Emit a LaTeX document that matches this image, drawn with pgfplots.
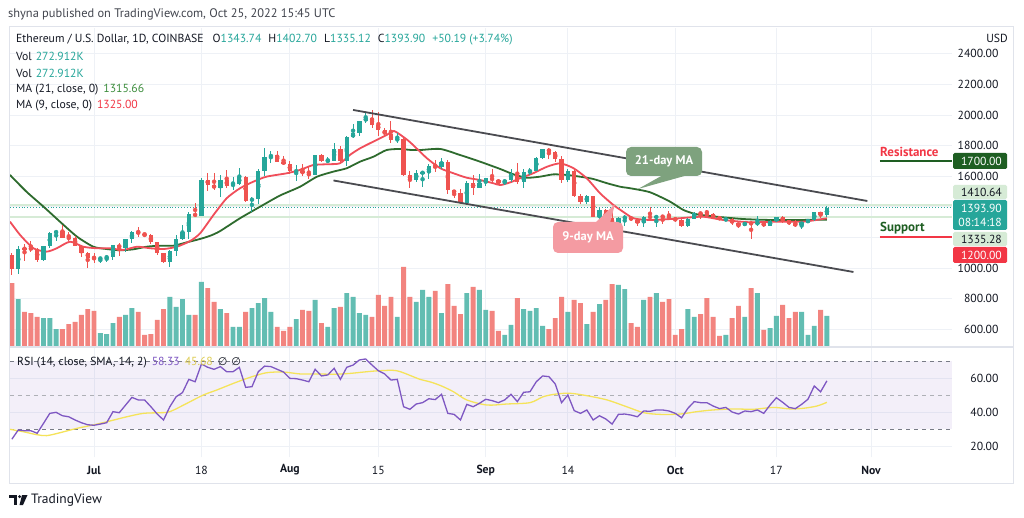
\documentclass[border=0pt]{standalone}
\usepackage{pgfplots}
\pgfplotsset{compat=1.18}
\usepackage{pgfplotstable}
\usepackage{fontspec}
\setmainfont{PT Sans}
\newfontfamily\symf{DejaVu Sans}

\definecolor{tvgreen}{HTML}{26A69A}
\definecolor{tvred}{HTML}{EF5350}
\definecolor{volgreen}{HTML}{62BDB2}
\definecolor{volred}{HTML}{F2847F}
\definecolor{ma21}{HTML}{2E6B2E}
\definecolor{ma9}{HTML}{F04E5A}
\definecolor{gridc}{HTML}{EEF1F6}
\definecolor{txt}{HTML}{131722}
\definecolor{rsip}{HTML}{7E57C2}
\definecolor{rsiy}{HTML}{F5E35A}
\definecolor{chan}{HTML}{4A4B50}
\definecolor{lgreen}{HTML}{D6EBD6}
\definecolor{resgreen}{HTML}{1E5E22}
\definecolor{supred}{HTML}{F23645}
\definecolor{call21}{HTML}{7EA27E}
\definecolor{call9}{HTML}{F49BA2}
\definecolor{framec}{HTML}{E0E3EB}
\definecolor{dashc}{HTML}{787B86}
\definecolor{ma21txt}{HTML}{3E8E3E}

\newcommand{\hdr}{\fontsize{11.7}{13}\selectfont}

\pgfplotstableread{
d o h l c v
-12 993 1146 964 1127 422
-8 1052 1146 1047 1143 255
-7 1143 1234 1130 1226 255
-6 1226 1250 1176 1243 158
1 1059 1072 1032 1066 123
2 1066 1082 1039 1075 114
3 1075 1151 1053 1150 211
5 1133 1191 1107 1187 282
6 1187 1243 1164 1238 343
12 1038 1117 1006 1112 440
13 1112 1213 1076 1192 352
14 1192 1280 1185 1233 422
15 1233 1368 1192 1355 282
17 1339 1587 1339 1578 572
20 1521 1607 1461 1577 334
22 1535 1597 1508 1551 176
23 1551 1656 1540 1596 176
25 1441 1462 1363 1452 343
26 1452 1645 1420 1636 387
27 1636 1785 1604 1726 431
28 1726 1766 1683 1738 308
32 1632 1675 1566 1634 246
35 1607 1739 1605 1737 414
37 1698 1724 1683 1702 176
38 1702 1818 1700 1776 343
40 1700 1865 1665 1853 475
41 1853 1943 1851 1880 440
42 1880 1963 1860 1958 299
43 1958 2020 1950 1983 282
48 1834 1884 1820 1846 264
51 1575 1640 1560 1620 396
52 1620 1630 1530 1625 502
53 1625 1682 1580 1665 440
55 1658 1720 1650 1696 299
59 1424 1567 1420 1553 475
61 1523 1616 1520 1553 502
62 1553 1590 1538 1586 326
65 1557 1579 1541 1577 106
66 1577 1650 1560 1617 194
68 1561 1644 1520 1630 334
69 1630 1651 1606 1636 317
70 1636 1728 1633 1718 343
71 1718 1780 1711 1775 185
75 1574 1650 1565 1637 308
78 1432 1478 1421 1470 202
80 1336 1395 1283 1377 378
83 1252 1336 1238 1328 546
84 1328 1349 1272 1331 510
87 1294 1339 1270 1336 414
89 1330 1348 1265 1337 475
94 1276 1326 1270 1323 334
95 1323 1368 1319 1362 264
100 1316 1325 1310 1320 106
103 1280 1302 1275 1295 264
105 1288 1340 1277 1297 475
107 1275 1311 1272 1305 167
108 1305 1335 1299 1331 273
112 1283 1301 1254 1299 308
113 1299 1318 1296 1314 106
114 1314 1365 1306 1364 185
116 1343.74 1402.70 1335.12 1393.90 272.9
}\upc

\pgfplotstableread{
d o h l c v
-13 1086 1097 955 993 563
-11 1127 1160 1046 1125 308
-10 1128 1178 1104 1125 299
-9 1125 1132 1040 1052 264
-5 1243 1282 1196 1199 158
-4 1199 1237 1177 1193 202
-3 1193 1210 1141 1144 220
-2 1144 1147 1071 1098 282
-1 1098 1103 1003 1068 334
0 1068 1100 1033 1059 317
4 1150 1165 1081 1133 264
7 1238 1271 1200 1223 308
8 1223 1230 1202 1218 106
9 1218 1222 1154 1168 114
10 1168 1169 1088 1097 238
11 1097 1099 1035 1038 334
16 1355 1427 1332 1339 282
18 1578 1621 1504 1543 519
19 1543 1620 1508 1521 396
21 1577 1643 1525 1535 299
24 1596 1603 1432 1441 308
29 1738 1765 1690 1696 176
30 1696 1733 1670 1680 141
31 1680 1697 1613 1632 176
33 1634 1680 1604 1618 326
34 1618 1667 1581 1607 317
36 1737 1748 1693 1698 211
39 1776 1795 1680 1700 352
44 1983 2030 1912 1936 264
45 1936 2020 1860 1902 458
46 1902 1912 1858 1876 361
47 1876 1960 1820 1834 440
49 1846 1849 1600 1610 704
50 1610 1633 1520 1575 440
54 1665 1708 1630 1658 493
56 1696 1704 1481 1507 554
57 1507 1511 1456 1492 361
58 1492 1516 1421 1424 290
60 1553 1607 1474 1523 528
63 1586 1644 1557 1577 317
64 1577 1580 1541 1557 141
67 1617 1687 1547 1561 431
72 1775 1787 1714 1761 158
73 1761 1764 1695 1713 255
74 1713 1729 1557 1574 440
76 1637 1650 1462 1473 414
77 1473 1481 1420 1432 387
79 1470 1470 1332 1336 308
81 1377 1387 1311 1324 414
82 1324 1393 1221 1252 554
85 1331 1340 1307 1316 211
86 1316 1330 1276 1294 176
88 1336 1400 1310 1330 440
90 1337 1346 1285 1335 396
91 1335 1373 1314 1328 422
92 1328 1335 1300 1311 106
93 1311 1318 1270 1276 158
96 1362 1366 1322 1352 290
97 1352 1379 1350 1349 431
98 1351 1357 1320 1331 264
99 1331 1334 1316 1321 97
101 1320 1324 1283 1291 255
102 1291 1294 1264 1280 361
104 1295 1310 1190 1288 519
106 1297 1300 1270 1275 150
109 1331 1338 1292 1311 370
110 1311 1315 1283 1285 255
111 1285 1311 1270 1283 308
115 1364 1368 1330 1344 326
}\downc

\pgfplotsset{
  tvbase/.style={scale only axis, anchor=south west, width=942pt,
    xmin=-13.3, xmax=135.8, axis line style={draw=none}, tick style={draw=none},
    /pgf/number format/assume math mode=true,
    tick label style={font=\hdr, text=txt}},
  wick/.style={color=#1, only marks, mark=none, forget plot,
    error bars/.cd, y dir=both, y explicit, error mark=none,
    error bar style={line width=1pt, color=#1}},
  body/.style={color=#1, only marks, mark=none, forget plot,
    error bars/.cd, y dir=both, y explicit, error mark=none,
    error bar style={line width=4.3pt, color=#1}},
}

\begin{document}
\begin{tikzpicture}[x=1pt,y=1pt]
\useasboundingbox (0,0) rectangle (1024,517);
\fill[white] (0,0) rectangle (1024,517);

% ---------- price grid and scale ----------
\begin{axis}[tvbase, at={(10pt,170pt)}, height=319pt,
  ymin=483.7, ymax=2568.6,
  xtick={0,17,31,45,62,75,92,108,123}, xticklabels={},
  ytick={600,800,1000,1200,1400,1600,1800,2000,2200,2400},
  yticklabels={600.00,800.00,1000.00,,,1600.00,1800.00,2000.00,2200.00,2400.00},
  yticklabel pos=right,
  yticklabel style={anchor=east, xshift=50pt},
  grid=major, major grid style={gridc, line width=0.8pt}]
\addplot[lgreen, line width=2pt] coordinates {(-13.3,1410.64) (135.8,1410.64)};
\addplot[lgreen, line width=2pt] coordinates {(-13.3,1335.28) (135.8,1335.28)};
\addplot[tvgreen, line width=0.9pt, dotted] coordinates {(-13.3,1393.90) (135.8,1393.90)};
\end{axis}

% ---------- volume ----------
\begin{axis}[tvbase, at={(10pt,170pt)}, height=319pt, ymin=0, ymax=2807, hide axis]
\addplot[ybar, bar width=4.9pt, bar shift=0pt, fill=volgreen, draw=none] table[x=d,y=v]{\upc};
\addplot[ybar, bar width=4.9pt, bar shift=0pt, fill=volred, draw=none] table[x=d,y=v]{\downc};
\end{axis}

% ---------- candles, MAs, channel ----------
\begin{axis}[tvbase, at={(10pt,170pt)}, height=319pt,
  ymin=483.7, ymax=2568.6, hide axis]
\addplot[ma21, line width=1.8pt, smooth, tension=0.4] coordinates {
(-13.3,1608) (-10.7,1499) (-8,1401) (-5.4,1303) (-2.7,1205) (-0.1,1139) (2,1124) (4.1,1116) (6.2,1122) (8.3,1139) (10.4,1146) (12.6,1146) (14.7,1168) (16.8,1190) (18.4,1211) (19.9,1240) (23.1,1325) (26.3,1401) (29.4,1473) (32.6,1531) (35.3,1597) (37.9,1630) (40,1652) (42.1,1695) (44.2,1727) (46.3,1771) (48.4,1778) (50,1772) (51.6,1771) (54.8,1778) (57.9,1739) (61.1,1695) (64.3,1647) (66.4,1612) (68.5,1590) (70.6,1597) (72.7,1612) (74.8,1608) (76.9,1597) (79,1582) (81.2,1554) (83.3,1531) (84.9,1521) (88,1495) (91.2,1433) (93.3,1379) (95.4,1351) (98.6,1335) (102.8,1320) (107,1314) (111.2,1314) (116,1315.66)};
\addplot[ma9, line width=1.8pt, smooth, tension=0.4] coordinates {
(-13.3,1303) (-11.7,1216) (-9.6,1129) (-7.5,1107) (-5.9,1129) (-3.8,1172) (-1.7,1139) (0.4,1129) (2.5,1129) (4.6,1118) (6.8,1139) (8.9,1129) (11,1124) (13.1,1139) (15.2,1176) (16.8,1227) (18.9,1346) (21,1456) (23.1,1521) (25.2,1564) (27.3,1597) (30.5,1619) (32.6,1641) (34.7,1673) (36.8,1678) (38.9,1684) (40.5,1739) (42.1,1782) (44.2,1826) (46.3,1869) (47.5,1895) (49.5,1840) (50.5,1804) (52.7,1717) (54.8,1652) (56.9,1619) (59,1590) (61.1,1575) (63.2,1554) (64.3,1542) (65.9,1560) (67.4,1586) (69.5,1619) (71.7,1662) (73.8,1684) (75.9,1652) (78,1586) (80.1,1488) (82.2,1412) (83.3,1380) (85.4,1325) (88,1314) (91.2,1320) (93.8,1329) (96.5,1335) (99.6,1314) (103.8,1299) (108.1,1303) (112.3,1303) (116,1325)};
% wicks
\addplot[wick=tvgreen] table[x=d, y expr={(\thisrow{h}+\thisrow{l})/2}, y error expr={(\thisrow{h}-\thisrow{l})/2}]{\upc};
\addplot[wick=tvred] table[x=d, y expr={(\thisrow{h}+\thisrow{l})/2}, y error expr={(\thisrow{h}-\thisrow{l})/2}]{\downc};
% bodies
\addplot[body=tvgreen] table[x=d, y expr={(\thisrow{o}+\thisrow{c})/2}, y error expr={max(abs(\thisrow{c}-\thisrow{o})/2,3)}]{\upc};
\addplot[body=tvred] table[x=d, y expr={(\thisrow{o}+\thisrow{c})/2}, y error expr={max(abs(\thisrow{c}-\thisrow{o})/2,3)}]{\downc};
% channel
\addplot[chan, line width=1.8pt] coordinates {(41,2033) (122.4,1438)};
\addplot[chan, line width=1.8pt] coordinates {(37.9,1572) (120.2,974)};
% resistance / support levels
\addplot[resgreen, line width=2pt] coordinates {(124.4,1700) (135.8,1700)};
\addplot[supred, line width=2pt] coordinates {(124.4,1200) (135.8,1200)};
\end{axis}

% ---------- RSI ----------
\begin{axis}[tvbase, at={(10pt,60pt)}, height=109pt,
  ymin=13.53, ymax=77.65,
  xtick={0,17,31,45,62,75,92,108,123},
  xticklabels={\textbf{Jul},18,\textbf{Aug},15,\textbf{Sep},14,\textbf{Oct},17,\textbf{Nov}},
  xticklabel style={anchor=center, yshift=-13pt},
  ytick={20,40,60}, yticklabels={20.00,40.00,60.00},
  yticklabel pos=right, yticklabel style={anchor=east, xshift=50pt},
  grid=major, major grid style={gridc, line width=0.8pt}]
\addplot[draw=none, fill=rsip, fill opacity=0.09] coordinates {(-13.3,30) (135.8,30) (135.8,70) (-13.3,70)} -- cycle;
\addplot[dashc, line width=0.9pt, dash pattern=on 4pt off 4pt] coordinates {(-13.3,70) (135.8,70)};
\addplot[dashc!60, line width=0.9pt, dash pattern=on 4pt off 4pt] coordinates {(-13.3,50) (135.8,50)};
\addplot[dashc, line width=0.9pt, dash pattern=on 4pt off 4pt] coordinates {(-13.3,30) (135.8,30)};
\addplot[rsiy, line width=1.3pt, smooth, tension=0.5] coordinates {
(-13.3,29.8) (-11.2,28.4) (-9.1,26.7) (-7.5,26.1) (-5.4,27.8) (-2.7,30.4) (-0.1,32.4) (2.5,34.7) (5.2,37.2) (7.8,39.2) (10.4,39.6) (12,40.2) (14.7,45.1) (17.3,50) (19.4,52.9) (22.1,56.9) (24.7,60.4) (27.3,63.1) (30,63.5) (32.6,62.4) (35.3,62.4) (37.9,62.2) (40.5,62.7) (43.2,63.7) (45.3,64.3) (47.9,64.3) (50.5,60.8) (51.6,59.2) (53.3,57.6) (55,55.3) (56.9,51.9) (59,47.1) (62.2,44.1) (65.3,44.7) (69,45.5) (71.1,49) (73.2,50.6) (75.4,51) (78,49.6) (81.2,47.1) (84.3,43.1) (87,39.6) (89.6,38.6) (92.8,38.8) (95.4,40.2) (98,41.2) (101.2,41.8) (104.4,41.6) (107.5,42.7) (110.2,41.8) (112.3,42.2) (114.4,43.5) (116,45.68)};
\addplot[rsip, line width=1.3pt] coordinates {
(-13,24) (-12,29.4) (-11,29) (-10,29) (-9,27.5) (-8,33.3) (-7,39.2) (-6,39.8) (-5,37.8) (-4,37.2) (-3,35.3) (-2,33.7) (-1,32.5) (0,32.2) (1,32.9) (2,33.7) (3,40.2) (4,39.6) (5,44.1) (6,48.6) (7,47.1) (8,47.1) (9,43.1) (10,38.8) (11,35.3) (12,43.1) (13,49) (14,51.4) (15,59.2) (16,57.8) (17,68.2) (18,66.3) (19,65.1) (20,66.7) (21,63.7) (22,63.7) (23,66.3) (24,54.5) (25,54.9) (26,63.7) (27,67) (28,66.7) (29,65.1) (30,63.5) (31,59.8) (32,59.6) (33,58.8) (34,57.8) (35,65.1) (36,61.2) (37,61.8) (38,65.7) (39,59.2) (40,66.3) (41,67.6) (42,70.6) (43,71.2) (44,67.6) (45,64.3) (46,62.4) (47,58.8) (48,59.2) (49,43.1) (50,41.6) (51,44.7) (52,45.5) (53,47.8) (54,47.3) (55,50.4) (56,39.2) (57,38.6) (58,35.3) (59,44.5) (60,43.1) (61,45.1) (62,47.5) (63,46.7) (64,45.5) (65,47.1) (66,50.4) (67,46.1) (68,51.6) (69,51.9) (70,57.8) (71,61.2) (72,60.8) (73,56.5) (74,45.5) (75,50) (76,40.8) (77,39.2) (78,41.2) (79,35.3) (80,37.8) (81,35.9) (82,32.9) (83,38.6) (84,38.8) (85,38.2) (86,37.2) (87,40.6) (88,40.4) (89,41.2) (90,41.2) (91,40.6) (92,39.2) (93,36.6) (94,42.2) (95,46.1) (96,45.5) (97,45.5) (98,43.5) (99,42) (100,42.7) (101,40) (102,38.8) (103,40.6) (104,40.2) (105,41.2) (106,39.2) (107,44.1) (108,48.4) (109,45.7) (110,42.7) (111,42) (112,44.5) (113,47.5) (114,55.3) (115,51.9) (116,58.33)};
\end{axis}

% ---------- frame ----------
\draw[framec, line width=1pt] (9,34) rectangle (1013,490);
\draw[framec, line width=1.5pt] (9,170) -- (1013,170);

% ---------- header texts ----------
\node[anchor=west, inner sep=0, font=\fontsize{12.4}{14}\selectfont, text=txt!80] at (8,503) {shyna published on TradingView.com, Oct 25, 2022 15:45 UTC};
\node[anchor=west, inner sep=0, font=\hdr, text=txt] at (16,477) {Ethereum / U.S. Dollar, 1D, COINBASE\hspace{9pt}O\textcolor{tvgreen}{1343.74}\hspace{7pt}H\textcolor{tvgreen}{1402.70}\hspace{7pt}L\textcolor{tvgreen}{1335.12}\hspace{7pt}C\textcolor{tvgreen}{1393.90}\hspace{7pt}\textcolor{tvgreen}{+50.19 (+3.74\%)}};
\node[anchor=west, inner sep=0, font=\hdr, text=txt] at (16,460.5) {Vol\hspace{4pt}\textcolor{tvgreen}{272.912K}};
\node[anchor=west, inner sep=0, font=\hdr, text=txt] at (16,444) {Vol\hspace{4pt}\textcolor{tvgreen}{272.912K}};
\node[anchor=west, inner sep=0, font=\hdr, text=txt] at (16,427.5) {MA (21, close, 0)\hspace{5pt}\textcolor{ma21txt}{1315.66}};
\node[anchor=west, inner sep=0, font=\hdr, text=txt] at (16,411) {MA (9, close, 0)\hspace{5pt}\textcolor{supred}{1325.00}};
\node[anchor=west, inner sep=0, font=\hdr, text=txt] at (17,154) {RSI (14, close, SMA, 14, 2)\hspace{5pt}\textcolor{rsip}{58.33}\hspace{5pt}\textcolor{rsiy!90!black}{45.68}\hspace{5pt}{\symf\fontsize{11}{12}\selectfont ∅\hspace{4pt}∅}};
\node[anchor=east, inner sep=0, font=\hdr, text=txt] at (1008,479) {USD};

% ---------- callouts ----------
\fill[call21] (663,342) -- (688,342) -- (638,328) -- cycle;
\fill[call21, rounded corners=5pt] (626,341) rectangle (702,370);
\node[font=\fontsize{12.5}{14}\selectfont\bfseries, text=white] at (664,355.5) {21-day MA};
\fill[call9] (595,294) -- (610,294) -- (615,313) -- cycle;
\fill[call9, rounded corners=5pt] (553,264) rectangle (623,295);
\node[font=\fontsize{12.5}{14}\selectfont\bfseries, text=white] at (588,279.5) {9-day MA};

% ---------- resistance / support ----------
\node[anchor=west, inner sep=0, font=\fontsize{13}{15}\selectfont\bfseries, text=supred] at (880,365) {Resistance};
\node[anchor=west, inner sep=0, font=\fontsize{13}{15}\selectfont\bfseries, text=resgreen] at (880,289) {Support};

% ---------- price scale tags ----------
\fill[resgreen, rounded corners=1.5pt] (953,348) rectangle (1007,364);
\node[anchor=east, inner sep=0, font=\hdr, text=white] at (1002,356) {1700.00};
\fill[lgreen, rounded corners=1.5pt] (953,318) rectangle (1007,332);
\node[anchor=east, inner sep=0, font=\hdr, text=txt] at (1002,325) {1410.64};
\fill[tvgreen, rounded corners=1.5pt] (953,287) rectangle (1007,317);
\node[anchor=east, inner sep=0, font=\hdr, text=white] at (1002,309) {1393.90};
\node[anchor=east, inner sep=0, font=\hdr, text=white] at (1002,295) {08:14:18};
\fill[lgreen, rounded corners=1.5pt] (953,271) rectangle (1007,285);
\node[anchor=east, inner sep=0, font=\hdr, text=txt] at (1002,278) {1335.28};
\fill[supred, rounded corners=1.5pt] (953,254) rectangle (1007,270);
\node[anchor=east, inner sep=0, font=\hdr, text=white] at (1002,262) {1200.00};

% ---------- TradingView logo ----------
\fill[txt] (9,22) rectangle (17,19);
\fill[txt] (13.5,22) rectangle (17,12);
\fill[txt] (19.6,20.4) circle (1.7);
\fill[txt] (22,22) -- (27.5,22) -- (23,12) -- (19.5,12) -- cycle;
\node[anchor=west, inner sep=0, font=\fontsize{13.5}{15}\selectfont, text=txt] at (31,17) {TradingView};
\end{tikzpicture}
\end{document}
